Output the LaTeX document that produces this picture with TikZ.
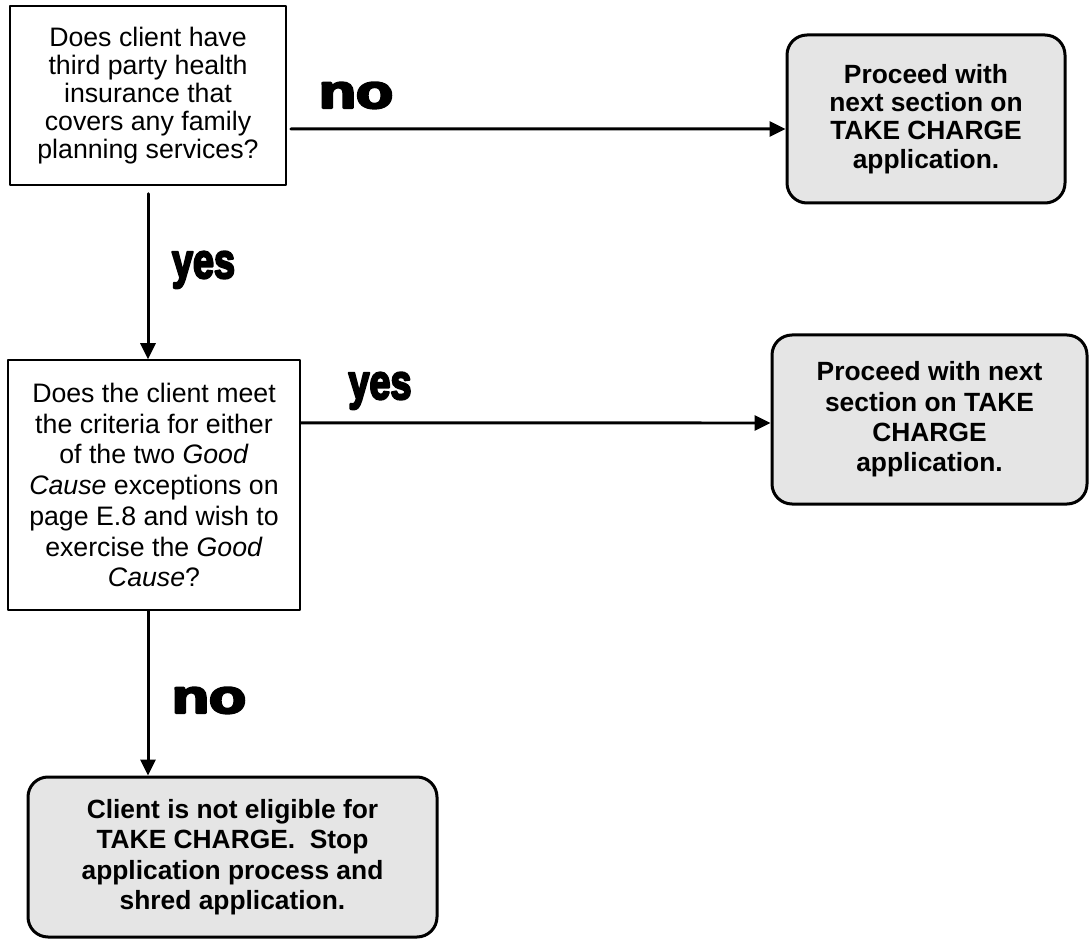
\documentclass[tikz,border=0pt]{standalone}
\usepackage{fontspec}
\setmainfont{Liberation Sans}
\newfontface\heavyfont{Liberation Sans Bold}[FakeBold=5]
\usetikzlibrary{positioning,arrows.meta}

\begin{document}
\begin{tikzpicture}[x=1cm,y=1cm, line cap=round, line join=round,
  qbox/.style={draw, line width=0.03cm, align=center, inner sep=0pt,
    font={\fontsize{15.2}{16}\selectfont}},
  gbox/.style={draw, line width=0.06cm, rounded corners=0.4cm, fill=black!10,
    align=center, inner sep=0pt, font={\fontsize{15}{17.3}\selectfont\bfseries}},
  arr/.style={line width=0.06cm, -{Triangle[length=0.32cm,width=0.3cm]}},
  lbl/.style={anchor=base, inner sep=0pt}]
\useasboundingbox (0,0) rectangle (21.82,18.78);

% Question boxes
\node[qbox, minimum width=5.52cm, minimum height=3.58cm] (q1) at (2.96,16.87)
  {Does client have\\third party health\\insurance that\\covers any family\\planning services?};
\node[qbox, minimum width=5.84cm, minimum height=5.00cm,
  font={\fontsize{15.2}{17.5}\selectfont}] (q2) at (3.08,9.08)
  {Does the client meet\\the criteria for either\\of the two \textit{Good}\\\textit{Cause} exceptions on\\page E.8 and wish to\\exercise the \textit{Good}\\\textit{Cause}?};

% Outcome boxes
\node[gbox, minimum width=5.56cm, minimum height=3.36cm,
  font={\fontsize{15}{16.1}\selectfont\bfseries}] (g1) at (18.52,16.40)
  {Proceed with\\next section on\\TAKE CHARGE\\application.};
\node[gbox, minimum width=6.30cm, minimum height=3.38cm] (g2) at (18.59,10.39)
  {Proceed with next\\section on TAKE\\CHARGE\\application.};
\node[gbox, minimum width=8.18cm, minimum height=3.20cm] (g3) at (4.65,1.64)
  {Client is not eligible for\\TAKE CHARGE.\ \ Stop\\application process and\\shred application.};

% Connectors
\draw[arr] ([xshift=0.08cm,yshift=-0.67cm]q1.east) -- ([yshift=-0.20cm]g1.west);
\draw[arr] ([yshift=-0.16cm]q1.south) -- (q1.south |- q2.north);
\draw[arr] ([yshift=1.24cm]q2.east) -- ([yshift=-0.07cm]g2.west);
\draw[arr] (q2.south -| q1.south) -- (q1.south |- g3.north);

% Labels
\node[lbl, font={\fontsize{27}{27}\heavyfont}] (no1) at (7.12,16.62) {\scalebox{1.28}[1]{no}};
\node[lbl, font={\fontsize{25}{25}\heavyfont}] (yes1) at (4.07,13.22) {\scalebox{0.86}[1.12]{yes}};
\node[lbl, font={\fontsize{25}{25}\heavyfont}] (yes2) at (7.60,10.80) {\scalebox{0.86}[1.12]{yes}};
\node[lbl, font={\fontsize{27}{27}\heavyfont}] (no2) at (4.18,4.52) {\scalebox{1.28}[1]{no}};
\end{tikzpicture}
\end{document}
